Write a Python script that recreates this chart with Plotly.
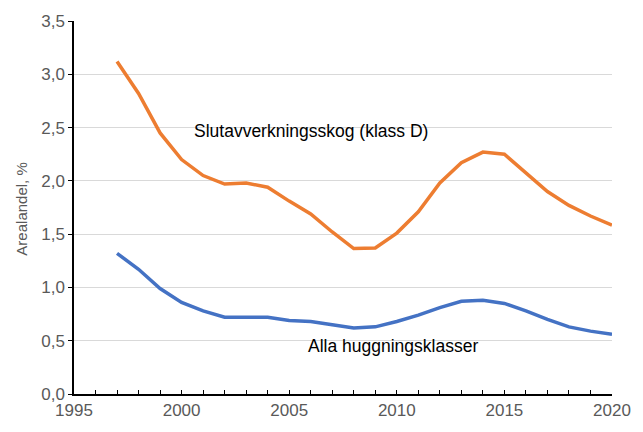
import plotly.graph_objects as go

years = list(range(1997, 2021))
slutavverkning = [3.12, 2.82, 2.45, 2.20, 2.05, 1.97, 1.98, 1.94, 1.81, 1.69, 1.52, 1.365,
                  1.37, 1.51, 1.71, 1.98, 2.17, 2.27, 2.25, 2.07, 1.90, 1.77, 1.67, 1.585]
alla = [1.32, 1.17, 0.99, 0.86, 0.78, 0.72, 0.72, 0.72, 0.69, 0.68, 0.65, 0.62,
        0.63, 0.68, 0.74, 0.81, 0.87, 0.88, 0.85, 0.78, 0.70, 0.63, 0.59, 0.56]

tick_years = list(range(1995, 2021))
tick_labels = [str(y) if y % 5 == 0 else "" for y in tick_years]

label_slut = "Slutavverkningsskog (klass D)"
label_alla = "Alla huggningsklasser"
y_title = "Arealandel, %"

FONT = "Liberation Sans, Arial, sans-serif"

fig = go.Figure()
fig.add_trace(go.Scatter(x=years, y=slutavverkning, mode="lines",
                         line=dict(color="#ED7D31", width=3.5), name=label_slut))
fig.add_trace(go.Scatter(x=years, y=alla, mode="lines",
                         line=dict(color="#4472C4", width=3.5), name=label_alla))

fig.add_annotation(x=2000.46, y=2.465, xref="x", yref="y", text=label_slut,
                   showarrow=False, xanchor="left", yanchor="middle",
                   font=dict(family=FONT, size=17.5, color="#000000"))
fig.add_annotation(x=2005.8, y=0.449, xref="x", yref="y", text=label_alla,
                   showarrow=False, xanchor="left", yanchor="middle",
                   font=dict(family=FONT, size=17.5, color="#000000"))
fig.add_annotation(x=-0.098, y=0.495, xref="paper", yref="paper", text=y_title,
                   showarrow=False, xanchor="center", yanchor="middle", textangle=-90,
                   font=dict(family=FONT, size=15, color="#595959"))

fig.update_layout(
    width=643, height=432,
    margin=dict(l=74, r=28, t=17, b=33),
    paper_bgcolor="white", plot_bgcolor="white",
    showlegend=False,
    separators=", ",
    font=dict(family=FONT, color="#595959"),
)
fig.update_xaxes(range=[1995, 2020], tickmode="array", tickvals=tick_years, ticktext=tick_labels,
                 showline=True, linecolor="#000000", linewidth=1.5,
                 ticks="inside", ticklen=4, tickwidth=1.3, tickcolor="#000000",
                 showgrid=False, zeroline=False,
                 tickfont=dict(family=FONT, size=17, color="#595959"))
fig.update_yaxes(range=[0, 3.5], dtick=0.5, tickformat=".1f",
                 showline=True, linecolor="#000000", linewidth=1.5,
                 ticks="outside", ticklen=4, tickwidth=1.3, tickcolor="#000000",
                 showgrid=True, gridcolor="#D9D9D9", gridwidth=1,
                 zeroline=False,
                 tickfont=dict(family=FONT, size=17, color="#595959"))

fig.write_html("out.html", config={"displayModeBar": False},
               post_script="document.body.style.margin='0';document.body.style.padding='0';")
